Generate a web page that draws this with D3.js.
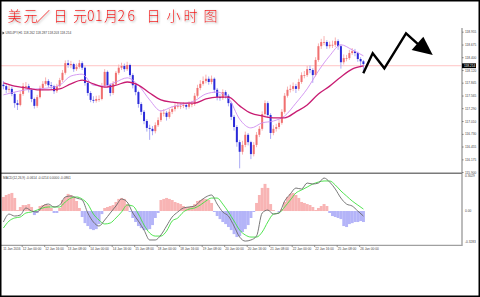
<!DOCTYPE html>
<html>
<head>
<meta charset="utf-8">
<script src="https://cdn.jsdelivr.net/npm/d3@7/dist/d3.min.js"></script>
<style>
  body { margin: 0; background: #fff; }
  svg { display: block; }
</style>
</head>
<body>
<svg id="chart" width="480" height="297"></svg>
<script>
// USD/JPY, H1, 11 Jan - 26 Jan 2016, one candle per two hourly bars
const firstOpen = 117.80
const closes = [
  117.77, 117.69, 117.71, 117.60, 117.40, 117.36, 117.60, 117.77, 117.77, 117.69,
  117.49, 117.34, 117.53, 117.73, 117.82, 117.88, 117.79, 117.77, 117.66, 117.77,
  117.90, 118.06, 118.27, 118.23, 118.25, 118.14, 118.19, 118.27, 118.17, 117.84,
  117.62, 117.47, 117.45, 117.49, 117.49, 117.77, 118.08, 117.79, 117.62, 117.82,
  118.06, 118.17, 118.21, 118.14, 118.23, 118.01, 117.79, 117.64, 117.38, 117.21,
  117.01, 116.86, 116.84, 116.79, 116.92, 117.03, 117.19, 117.19, 117.10, 117.21,
  117.27, 117.34, 117.34, 117.34, 117.36, 117.32, 117.38, 117.38, 117.56, 117.73,
  117.82, 117.88, 117.93, 117.86, 117.93, 117.69, 117.53, 117.51, 117.64, 117.56,
  117.40, 117.10, 116.88, 116.55, 116.34, 116.49, 116.71, 116.55, 116.29, 116.49,
  116.71, 116.84, 117.16, 117.40, 117.14, 116.75, 116.84, 116.88, 116.97, 117.21,
  117.56, 117.69, 117.71, 117.77, 117.71, 117.86, 118.01, 118.01, 118.14, 118.12,
  118.01, 118.34, 118.64, 118.73, 118.73, 118.64, 118.67, 118.67, 118.75, 118.64,
  118.29, 118.38, 118.38, 118.49, 118.53, 118.49, 118.36, 118.31, 118.25
]
const highs = [
  117.88, 117.82, 117.80, 117.76, 117.64, 117.47, 117.66, 117.84, 117.86, 117.82,
  117.72, 117.52, 117.58, 117.78, 117.88, 117.96, 117.92, 117.86, 117.80, 117.82,
  117.95, 118.12, 118.33, 118.34, 118.32, 118.28, 118.26, 118.34, 118.31, 118.20,
  117.88, 117.66, 117.55, 117.56, 117.57, 117.84, 118.14, 118.11, 117.83, 117.88,
  118.10, 118.24, 118.28, 118.26, 118.30, 118.26, 118.05, 117.83, 117.67, 117.42,
  117.25, 117.05, 116.93, 116.90, 116.98, 117.09, 117.24, 117.27, 117.23, 117.28,
  117.33, 117.40, 117.41, 117.40, 117.42, 117.40, 117.44, 117.45, 117.62, 117.80,
  117.90, 117.98, 118.02, 117.98, 118.00, 117.96, 117.73, 117.60, 117.70, 117.68,
  117.60, 117.43, 117.14, 116.92, 116.60, 116.58, 116.78, 116.75, 116.58, 116.55,
  116.77, 116.90, 117.22, 117.46, 117.44, 117.18, 116.92, 116.95, 117.04, 117.27,
  117.62, 117.76, 117.80, 117.85, 117.82, 117.93, 118.07, 118.10, 118.21, 118.22,
  118.16, 118.40, 118.70, 118.80, 118.86, 118.77, 118.74, 118.76, 118.83, 118.79,
  118.67, 118.46, 118.45, 118.56, 118.60, 118.58, 118.52, 118.40, 118.34
]
const lows = [
  117.70, 117.62, 117.63, 117.55, 117.30, 117.25, 117.33, 117.56, 117.70, 117.63,
  117.42, 117.28, 117.30, 117.50, 117.68, 117.78, 117.74, 117.70, 117.60, 117.62,
  117.74, 117.86, 118.02, 118.17, 118.16, 118.08, 118.10, 118.15, 118.12, 117.78,
  117.56, 117.42, 117.40, 117.41, 117.43, 117.46, 117.74, 117.74, 117.55, 117.58,
  117.78, 118.02, 118.12, 118.08, 118.10, 117.96, 117.72, 117.57, 117.30, 117.14,
  116.94, 116.78, 116.60, 116.70, 116.74, 116.88, 116.99, 117.11, 117.02, 117.06,
  117.16, 117.22, 117.28, 117.27, 117.29, 117.26, 117.28, 117.31, 117.34, 117.52,
  117.68, 117.78, 117.83, 117.80, 117.81, 117.62, 117.46, 117.45, 117.47, 117.50,
  117.33, 117.03, 116.80, 116.45, 115.98, 116.28, 116.44, 116.48, 116.18, 116.24,
  116.44, 116.66, 116.80, 117.12, 117.08, 116.62, 116.70, 116.78, 116.83, 116.93,
  117.17, 117.52, 117.63, 117.66, 117.62, 117.67, 117.82, 117.94, 117.97, 118.05,
  117.84, 117.98, 118.30, 118.58, 118.66, 118.58, 118.59, 118.60, 118.62, 118.56,
  118.15, 118.24, 118.31, 118.34, 118.45, 118.42, 118.30, 118.18, 118.06
]

// moving averages, one value every 8 bars
const fastMa = [
  117.58, 117.64, 117.69, 117.71, 117.73, 117.79, 117.99, 118.03, 117.79, 117.77,
  117.86, 117.95, 117.79, 117.47, 117.23, 117.32, 117.38, 117.45, 117.60, 117.64,
  117.51, 117.05, 116.86, 116.97, 117.01, 117.12, 117.40, 117.71, 118.10, 118.43,
  118.67, 118.56, 118.43
]
const slowMa = [
  117.84, 117.77, 117.73, 117.69, 117.69, 117.71, 117.82, 117.90, 117.82, 117.75,
  117.79, 117.86, 117.79, 117.62, 117.47, 117.42, 117.40, 117.40, 117.49, 117.53,
  117.53, 117.34, 117.18, 117.12, 117.08, 117.08, 117.21, 117.36, 117.60, 117.77,
  117.97, 118.14, 118.21
]

// MACD(12,26,9) lines, one value every 4 bars
const macdMain = [
  -0.090, -0.025, -0.041, -0.033, 0.025, 0.000, -0.008, 0.041, 0.057, 0.033,
  0.049, 0.115, 0.123, 0.106, 0.090, -0.016, -0.090, -0.123, -0.074, -0.016,
  0.041, 0.098, 0.074, -0.016, -0.082, -0.156, -0.237, -0.237, -0.196, -0.123,
  -0.049, -0.008, 0.025, 0.033, 0.041, 0.082, 0.115, 0.131, 0.057, -0.008,
  -0.041, -0.123, -0.213, -0.246, -0.237, -0.205, -0.016, 0.008, -0.025, -0.016,
  0.082, 0.139, 0.188, 0.180, 0.229, 0.221, 0.229, 0.270, 0.237, 0.180,
  0.106, 0.057, 0.041, 0.000, -0.041
]
const macdSignal = [
  -0.139, -0.082, -0.057, -0.049, -0.016, -0.008, 0.008, 0.025, 0.033, 0.033,
  0.033, 0.074, 0.106, 0.115, 0.098, 0.057, -0.025, -0.074, -0.106, -0.098,
  -0.057, -0.008, 0.049, 0.041, -0.025, -0.115, -0.180, -0.205, -0.205, -0.164,
  -0.082, -0.057, -0.008, 0.016, 0.025, 0.049, 0.082, 0.106, 0.106, 0.057,
  -0.008, -0.082, -0.156, -0.196, -0.213, -0.213, -0.172, -0.090, -0.025, -0.016,
  0.033, 0.090, 0.147, 0.172, 0.196, 0.221, 0.237, 0.246, 0.246, 0.213,
  0.164, 0.123, 0.082, 0.049, 0.016
]
// histogram, one value every 2 bars
const macdHist = [
  0.115, 0.131, 0.140, 0.148, 0.107, 0.008, 0.033, 0.049, 0.049, 0.057,
  0.033, -0.033, -0.016, 0.041, 0.049, 0.057, 0.049, 0.025, -0.016, -0.016,
  0.025, 0.090, 0.115, 0.140, 0.131, 0.115, 0.082, 0.025, -0.049, -0.099,
  -0.123, -0.148, -0.156, -0.148, -0.107, -0.025, 0.025, 0.033, 0.041, 0.049,
  0.074, 0.099, 0.107, 0.099, 0.057, -0.008, -0.057, -0.090, -0.123, -0.140,
  -0.156, -0.156, -0.148, -0.115, -0.057, -0.016, 0.090, 0.099, 0.107, 0.099,
  0.090, 0.074, 0.066, 0.057, 0.041, 0.033, 0.033, 0.041, 0.057, 0.082,
  0.090, 0.099, 0.099, 0.090, 0.066, -0.008, -0.041, -0.066, -0.090, -0.107,
  -0.131, -0.156, -0.189, -0.213, -0.205, -0.172, -0.148, -0.115, -0.057, -0.008,
  0.066, 0.131, 0.189, 0.222, 0.189, 0.057, 0.008, 0.000, -0.008, 0.016,
  0.074, 0.115, 0.140, 0.148, 0.131, 0.107, 0.074, 0.066, 0.057, 0.049,
  0.033, 0.008, 0.025, 0.041, 0.057, 0.041, -0.016, -0.041, -0.049, -0.057,
  -0.066, -0.123, -0.131, -0.107, -0.099, -0.090, -0.090, -0.082, -0.090
]

const priceTicks = [118.955, 118.675, 118.400, 118.120, 117.845, 117.565, 117.290,
  117.010, 116.730, 116.455, 116.175, 115.900]
const macdTickLabels = ['0.3029', '0.00', '-0.3283']
const timeLabels = ['11 Jan 2016', '12 Jan 00:00', '12 Jan 16:00', '13 Jan 08:00',
  '14 Jan 00:00', '14 Jan 16:00', '15 Jan 08:00', '18 Jan 00:00', '18 Jan 16:00',
  '19 Jan 08:00', '20 Jan 00:00', '20 Jan 16:00', '21 Jan 08:00', '22 Jan 00:00',
  '22 Jan 16:00', '25 Jan 08:00', '26 Jan 00:00']
const lastPrice = 118.214

// hand drawn forecast arrow, in bar / price units
const arrowBars = [258.9, 265.6, 273.9, 289.3, 298.0]
const arrowPrices = [118.049, 118.485, 118.158, 118.920, 118.680]
const arrowHeadBars = [293.3, 301.6, 308.3]
const arrowHeadPrices = [118.556, 118.846, 118.448]

const titleChars = ['美', '元', '／', '日', '元', '0', '1', '月', '2', '6', '日', '小', '时', '图']
const infoText = 'USDJPY,H1  118.262 118.287 118.203 118.214'
const macdText = 'MACD(12,26,9) -0.0614 -0.0214 0.0000 -0.0861'

const firstBar = 3
const axisX = 462
// left edge of each title glyph
const titleX = [7.5, 23.5, 36, 53.5, 73, 87, 95, 104, 117.5, 127.5, 146.5, 166.5, 183.5, 203.5]

const svg = d3.select('#chart')

const x = d3.scaleLinear()
  .domain([0, 256])
  .range([-0.8, -0.8 + 256 * 1.40625])

const y = d3.scaleLinear()
  .domain([115.900, 118.955])
  .range([172, 31.7])

const yMacd = d3.scaleLinear()
  .domain([-0.278, 0.3029])
  .range([245, 174])

const defs = svg.append('defs')
defs.append('filter')
  .attr('id', 'glow')
  .attr('x', '-10%').attr('y', '-30%')
  .attr('width', '130%').attr('height', '160%')
  .append('feDropShadow')
  .attr('dx', 1).attr('dy', 1)
  .attr('stdDeviation', 0.9)
  .attr('flood-color', '#8a8a8a')
  .attr('flood-opacity', 0.8)

svg.append('rect')
  .attr('width', 480).attr('height', 297)
  .attr('fill', '#fff')

// current price line
svg.append('line')
  .attr('x1', 0).attr('x2', axisX)
  .attr('y1', y(lastPrice)).attr('y2', y(lastPrice))
  .attr('stroke', '#ffc4c4')
  .attr('stroke-width', 1)

// candles
const candles = closes.map((c, i) => ({
  bar: firstBar + i * 2,
  open: i === 0 ? firstOpen : closes[i - 1],
  close: c,
  high: highs[i],
  low: lows[i]
}))

const gCandles = svg.append('g')
gCandles.selectAll('line.wick')
  .data(candles)
  .enter()
  .append('line')
  .attr('class', 'wick')
  .attr('x1', d => x(d.bar)).attr('x2', d => x(d.bar))
  .attr('y1', d => y(d.high)).attr('y2', d => y(d.low))
  .attr('stroke', d => d.close >= d.open ? '#f8b2b2' : '#ababf5')
  .attr('stroke-width', 1)

gCandles.selectAll('rect.body')
  .data(candles)
  .enter()
  .append('rect')
  .attr('class', 'body')
  .attr('x', d => x(d.bar) - 1)
  .attr('width', 2)
  .attr('y', d => y(Math.max(d.open, d.close)))
  .attr('height', d => Math.max(0.8, Math.abs(y(d.open) - y(d.close))))
  .attr('fill', d => d.close >= d.open ? '#f07070' : '#2a2ad8')

// moving averages
const maLine = d3.line()
  .x((d, i) => x(firstBar + i * 8))
  .y(d => y(d))
  .curve(d3.curveMonotoneX)

svg.append('path')
  .datum(fastMa)
  .attr('d', maLine)
  .attr('fill', 'none')
  .attr('stroke', '#cf8ff0')
  .attr('stroke-width', 0.9)

svg.append('path')
  .datum(slowMa)
  .attr('d', maLine)
  .attr('fill', 'none')
  .attr('stroke', '#c81c72')
  .attr('stroke-width', 1.3)

// forecast arrow
const arrowLine = d3.line()
  .x(d => x(d[0]))
  .y(d => y(d[1]))

svg.append('path')
  .datum(d3.zip(arrowBars, arrowPrices))
  .attr('d', arrowLine)
  .attr('fill', 'none')
  .attr('stroke', '#000')
  .attr('stroke-width', 2.4)
  .attr('stroke-linejoin', 'miter')

svg.append('path')
  .datum(d3.zip(arrowHeadBars, arrowHeadPrices))
  .attr('d', d => arrowLine(d) + 'Z')
  .attr('fill', '#000')

// MACD histogram
const zeroY = yMacd(0)
svg.append('g')
  .selectAll('rect')
  .data(macdHist)
  .enter()
  .append('rect')
  .attr('x', (d, i) => x(firstBar + i * 2) - 1.45)
  .attr('width', 2.95)
  .attr('y', d => Math.min(zeroY, yMacd(d)))
  .attr('height', d => Math.abs(yMacd(d) - zeroY))
  .attr('fill', d => d >= 0 ? '#f8b4b4' : '#b4b4f8')

const macdLine = d3.line()
  .x((d, i) => x(firstBar + i * 4))
  .y(d => yMacd(d))
  .curve(d3.curveMonotoneX)

svg.append('path')
  .datum(macdSignal)
  .attr('d', macdLine)
  .attr('fill', 'none')
  .attr('stroke', '#3ee03e')
  .attr('stroke-width', 0.9)

svg.append('path')
  .datum(macdMain)
  .attr('d', macdLine)
  .attr('fill', 'none')
  .attr('stroke', '#6a6a6a')
  .attr('stroke-width', 0.9)

// frame lines
svg.append('line')
  .attr('x1', axisX).attr('x2', axisX)
  .attr('y1', 28).attr('y2', 246)
  .attr('stroke', '#a0a0a0')
  .attr('stroke-width', 1.4)

svg.append('line')
  .attr('x1', 0).attr('x2', axisX)
  .attr('y1', 173.3).attr('y2', 173.3)
  .attr('stroke', '#7a7a7a')
  .attr('stroke-width', 1.4)

svg.append('line')
  .attr('x1', 0).attr('x2', axisX)
  .attr('y1', 245.3).attr('y2', 245.3)
  .attr('stroke', '#a0a0a0')
  .attr('stroke-width', 1.2)

const tinyFont = 'Liberation Sans, Arial, sans-serif'

// price axis
const priceAxis = d3.axisRight(y)
  .tickValues(priceTicks)
  .tickFormat(d3.format('.3f'))
  .tickSize(1.5)
  .tickPadding(1.5)

const gPrice = svg.append('g')
  .attr('transform', `translate(${axisX},0)`)
  .call(priceAxis)
gPrice.select('.domain').remove()
gPrice.selectAll('line').attr('stroke', '#777')
gPrice.selectAll('text')
  .attr('font-size', 3.2)
  .attr('font-family', tinyFont)
  .attr('fill', '#444')

// current price box
svg.append('rect')
  .attr('x', axisX).attr('y', y(lastPrice) - 2.4)
  .attr('width', 14).attr('height', 4.8)
  .attr('fill', '#000')
svg.append('text')
  .attr('x', axisX + 2).attr('y', y(lastPrice) + 1.2)
  .attr('font-size', 3.2)
  .attr('font-family', tinyFont)
  .attr('fill', '#fff')
  .text(d3.format('.3f')(lastPrice))

// MACD axis labels
svg.append('g')
  .selectAll('text')
  .data([0.3029, 0, -0.278])
  .enter()
  .append('text')
  .attr('x', axisX + 3)
  .attr('y', (d, i) => yMacd(d) + [3.2, 1.2, -1.8][i])
  .attr('font-size', 3.2)
  .attr('font-family', tinyFont)
  .attr('fill', '#444')
  .text((d, i) => macdTickLabels[i])

// time axis
const timeAxis = d3.axisBottom(x)
  .tickValues(d3.range(0, 257, 16))
  .tickFormat((d, i) => timeLabels[i])
  .tickSize(1.5)
  .tickPadding(1)

const gTime = svg.append('g')
  .attr('transform', 'translate(0,245.3)')
  .call(timeAxis)
gTime.select('.domain').remove()
gTime.selectAll('line').attr('stroke', '#777')
gTime.selectAll('text')
  .attr('text-anchor', 'start')
  .attr('dx', (d, i) => i === 0 ? 3.5 : 0.6)
  .attr('font-size', 3.2)
  .attr('font-family', tinyFont)
  .attr('fill', '#444')

// panel captions
svg.append('path')
  .attr('d', 'M2.5,31.5 L4.5,33 L2.5,34.5 Z')
  .attr('fill', '#333')
svg.append('text')
  .attr('x', 5.5).attr('y', 34)
  .attr('font-size', 3.2)
  .attr('font-family', tinyFont)
  .attr('fill', '#444')
  .text(infoText)

svg.append('text')
  .attr('x', 3).attr('y', 178.5)
  .attr('font-size', 3.2)
  .attr('font-family', tinyFont)
  .attr('fill', '#444')
  .text(macdText)

// title, each glyph placed on its own
svg.append('text')
  .attr('x', titleX.join(' '))
  .attr('y', 21)
  .attr('font-size', 14)
  .attr('font-weight', 300)
  .attr('font-family', '"Noto Sans CJK SC", sans-serif')
  .attr('fill', '#f41414')
  .attr('filter', 'url(#glow)')
  .text(titleChars.join(''))

// outer border
svg.append('rect')
  .attr('x', 0.75).attr('y', 0.75)
  .attr('width', 478.5).attr('height', 295.5)
  .attr('fill', 'none')
  .attr('stroke', '#000')
  .attr('stroke-width', 1.5)
</script>
